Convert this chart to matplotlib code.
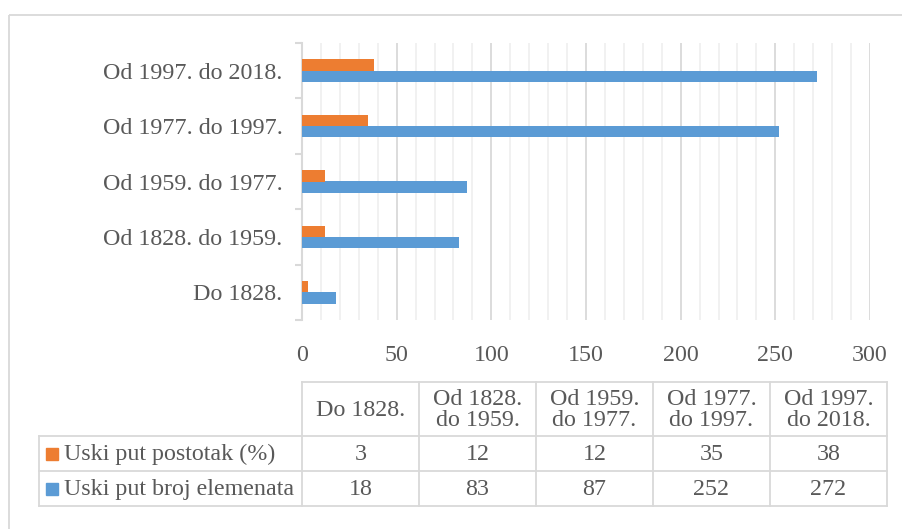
import matplotlib.pyplot as plt
from matplotlib.ticker import MultipleLocator
from matplotlib.patches import Rectangle
import numpy as np

# Periods and the two series for the narrow-gauge statistics
periods = ['Do 1828.', 'Od 1828. do 1959.', 'Od 1959. do 1977.',
           'Od 1977. do 1997.', 'Od 1997. do 2018.']
table_headers = ['Do 1828.', 'Od 1828.\ndo 1959.', 'Od 1959.\ndo 1977.',
                 'Od 1977.\ndo 1997.', 'Od 1997.\ndo 2018.']
postotak = [3, 12, 12, 35, 38]
broj_elemenata = [18, 83, 87, 252, 272]
series_names = ['Uski put postotak (%)', 'Uski put broj elemenata']

ORANGE = '#ED7D31'
BLUE = '#5B9BD5'
TEXT = '#595959'
LINE = '#D9D9D9'
FS = 17.3

plt.rcParams['font.family'] = ['Liberation Serif', 'DejaVu Serif']

W, H = 902, 529
fig = plt.figure(figsize=(W / 100, H / 100), dpi=100)

# Main horizontal bar chart
ax = fig.add_axes([302 / W, 1 - 320 / H, 568 / W, 277 / H])
y = np.arange(len(periods))
bh = 0.205
ax.barh(y - bh / 2, broj_elemenata, height=bh, color=BLUE, zorder=3)
ax.barh(y + bh / 2, postotak, height=bh, color=ORANGE, zorder=3)

ax.set_xlim(0, 300)
ax.set_ylim(-0.5, len(periods) - 0.5)
ax.xaxis.set_major_locator(MultipleLocator(50))
ax.xaxis.set_minor_locator(MultipleLocator(10))
ax.grid(axis='x', which='major', color=LINE, linewidth=1.3, zorder=0)
ax.grid(axis='x', which='minor', color='#F0F0F0', linewidth=1.3, zorder=0)
ax.tick_params(axis='x', which='both', length=0, labelsize=FS,
               labelcolor=TEXT, pad=18)

ax.set_yticks(y)
ax.set_yticklabels(periods)
ax.set_yticks(np.arange(-0.5, len(periods)), minor=True)
ax.tick_params(axis='y', which='major', length=0, labelsize=FS,
               labelcolor=TEXT, pad=14)
ax.tick_params(axis='y', which='minor', length=5, width=1.5, color=LINE)

for s in ['top', 'right', 'bottom']:
    ax.spines[s].set_visible(False)
ax.spines['left'].set_color(LINE)
ax.spines['left'].set_linewidth(1.5)

# Data table under the chart, laid out in pixel units
tab = fig.add_axes([0, 0, 1, 1])
tab.set_xlim(0, W)
tab.set_ylim(H, 0)
tab.axis('off')

# light frame round the whole chart area
tab.add_patch(Rectangle((9, 15), 910, 530, fill=False, edgecolor=LINE,
                        linewidth=1.3))

x_label, x0, x1 = 39, 302, 887
col_w = (x1 - x0) / len(table_headers)
y_top, y_head, y_r1, y_r2 = 382, 436, 471, 506
lw = 1.3

tab.plot([x0, x1], [y_top, y_top], color=LINE, lw=lw)
tab.plot([x_label, x1], [y_head, y_head], color=LINE, lw=lw)
tab.plot([x_label, x1], [y_r1, y_r1], color=LINE, lw=lw)
tab.plot([x_label, x1], [y_r2, y_r2], color=LINE, lw=lw)
tab.plot([x_label, x_label], [y_head, y_r2], color=LINE, lw=lw)
for i in range(len(table_headers) + 1):
    xc = x0 + i * col_w
    tab.plot([xc, xc], [y_top, y_r2], color=LINE, lw=lw)

for i, hdr in enumerate(table_headers):
    xc = x0 + (i + 0.5) * col_w
    tab.text(xc, (y_top + y_head) / 2 + 1, hdr, ha='center', va='center',
             fontsize=FS, color=TEXT, linespacing=0.95)

rows = [(series_names[0], ORANGE, postotak, y_head, y_r1),
        (series_names[1], BLUE, broj_elemenata, y_r1, y_r2)]
for name, color, vals, ya, yb in rows:
    ym = (ya + yb) / 2
    tab.add_patch(Rectangle((46, ym - 6), 12, 12, color=color))
    tab.text(64, ym + 1, name, ha='left', va='center', fontsize=FS,
             color=TEXT)
    for i, v in enumerate(vals):
        tab.text(x0 + (i + 0.5) * col_w, ym + 1, str(v), ha='center',
                 va='center', fontsize=FS, color=TEXT)

fig.savefig('out.png', dpi=100)
